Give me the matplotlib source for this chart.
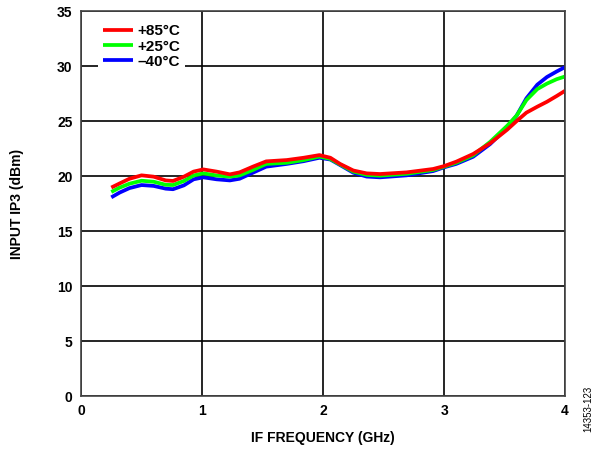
import matplotlib
matplotlib.use("Agg")
import matplotlib.pyplot as plt

plt.rcParams['font.family'] = ['Liberation Sans', 'DejaVu Sans']

freq = [0.25, 0.32, 0.40, 0.50, 0.60, 0.70, 0.76, 0.85, 0.93, 1.01,
        1.12, 1.23, 1.31, 1.42, 1.53, 1.70, 1.84, 1.97, 2.06, 2.14,
        2.25, 2.36, 2.47, 2.69, 2.91, 3.00, 3.10, 3.24, 3.38, 3.52,
        3.60, 3.68, 3.77, 3.85, 3.93, 4.00]
ip3_85 = [18.95, 19.33, 19.75, 20.06, 19.94, 19.6, 19.55, 19.94, 20.4, 20.6,
          20.4, 20.15, 20.33, 20.85, 21.33, 21.45, 21.66, 21.9, 21.66, 21.1,
          20.5, 20.24, 20.18, 20.33, 20.64, 20.9, 21.3, 22.0, 22.97, 24.2,
          25.0, 25.76, 26.3, 26.75, 27.27, 27.75]
ip3_25 = [18.55, 18.95, 19.3, 19.57, 19.48, 19.2, 19.18, 19.55, 20.05, 20.24,
          20.05, 19.94, 20.05, 20.55, 21.1, 21.2, 21.45, 21.77, 21.55, 21.05,
          20.4, 20.1, 20.03, 20.2, 20.55, 20.85, 21.2, 21.88, 23.1, 24.55,
          25.5, 26.9, 27.9, 28.4, 28.8, 29.05]
ip3_m40 = [18.06, 18.5, 18.9, 19.18, 19.1, 18.85, 18.8, 19.15, 19.7, 19.88,
           19.7, 19.6, 19.75, 20.3, 20.85, 21.1, 21.35, 21.66, 21.5, 21.0,
           20.3, 19.95, 19.88, 20.06, 20.45, 20.79, 21.1, 21.75, 22.9, 24.4,
           25.5, 27.06, 28.3, 29.0, 29.5, 29.9]

fig = plt.figure(figsize=(5.98, 4.49), dpi=100)
ax = fig.add_axes([0.1355, 0.118, 0.8095, 0.8575])

style = dict(lw=2.7, solid_joinstyle='round', solid_capstyle='butt')
lb, = ax.plot(freq, ip3_m40, color='#0000ff', label='–40°C', **style)
lg, = ax.plot(freq, ip3_25, color='#00ff00', label='+25°C', **style)
lr, = ax.plot(freq, ip3_85, color='#ff0000', label='+85°C', **style)

ax.set_xlim(0, 4)
ax.set_ylim(0, 35)
ax.set_xticks([0, 1, 2, 3, 4])
ax.set_yticks(range(0, 36, 5))
ax.grid(True, color='black', lw=1.2)
ax.set_axisbelow(True)
ax.tick_params(length=0, labelsize=10, pad=6)
for lab in ax.get_xticklabels() + ax.get_yticklabels():
    lab.set_fontweight('bold')
for s in ax.spines.values():
    s.set_color('#444444')
    s.set_linewidth(1.2)

ax.set_xlabel('IF FREQUENCY (GHz)', fontsize=10, fontweight='bold', labelpad=9)
ax.set_ylabel('INPUT IP3 (dBm)', fontsize=10, fontweight='bold', labelpad=24)

leg = ax.legend(handles=[lr, lg, lb], loc='upper left', bbox_to_anchor=(0.02, 0.997),
                frameon=True, fancybox=False, edgecolor='none', framealpha=1,
                prop={'weight': 'bold', 'size': 11}, handlelength=2.0,
                handletextpad=0.25, labelspacing=0.08, borderpad=0.3)

fig.text(0.983, 0.09, '14353-123', rotation=90, fontsize=7, ha='center', va='center')

fig.savefig('out.png', dpi=100)
